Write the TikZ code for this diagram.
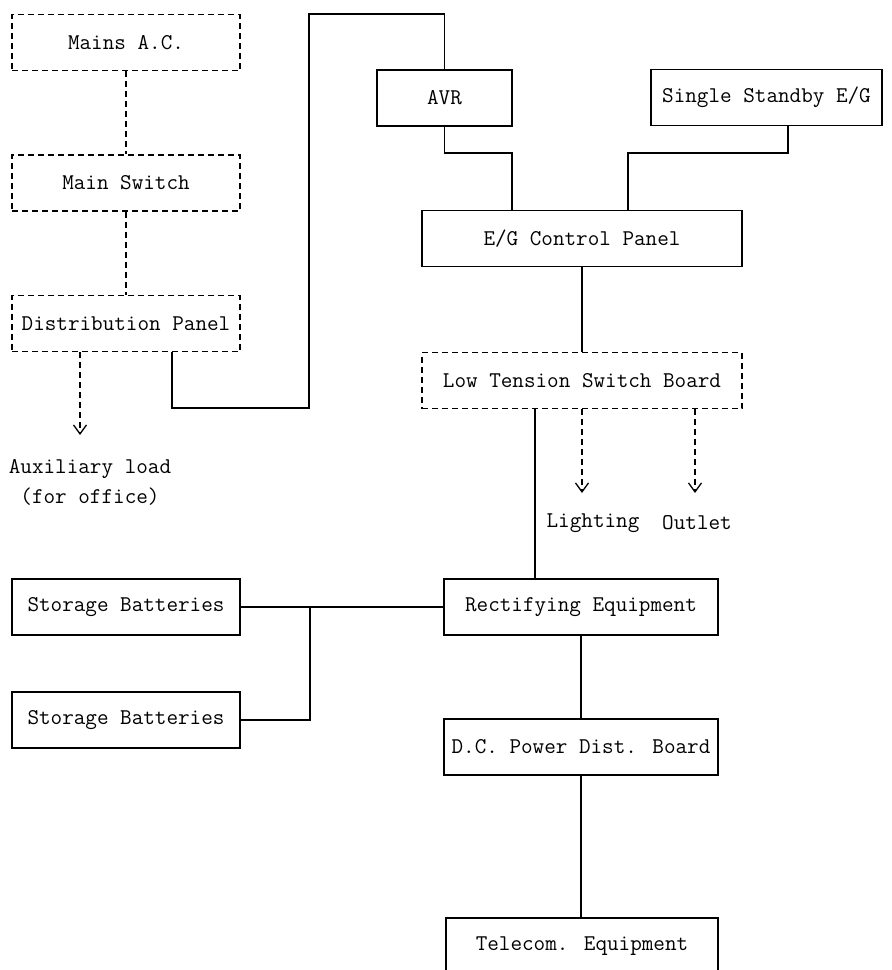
\documentclass[tikz,border=0pt]{standalone}
\usetikzlibrary{arrows.meta}

\tikzset{
  block/.style={draw, line width=1.4pt, minimum height=56pt, inner sep=0pt,
    font=\ttfamily\fontsize{22.5}{30}\selectfont},
  dblock/.style={block, dash pattern=on 6pt off 4pt},
  wire/.style={line width=1.4pt},
  dwire/.style={line width=1.4pt, dash pattern=on 6pt off 4pt},
  feed/.style={dwire, -{Straight Barb[length=9pt,width=13pt,line width=1.3pt]}},
  loadtext/.style={align=center, inner sep=0pt, font=\ttfamily\fontsize{22.5}{30}\selectfont}
}

\begin{document}
\begin{tikzpicture}[x=1pt,y=-1pt]
\useasboundingbox (0,0) rectangle (892,970);
\clip (0,0) rectangle (892,970);

\node[dblock, minimum width=228pt] (mains) at (126,42.5) {Mains A.C.};
\node[dblock, minimum width=228pt] (mainsw) at (126,183) {Main Switch};
\node[dblock, minimum width=228pt] (dist) at (126,323.5) {Distribution Panel};
\node[block, minimum width=135pt] (avr) at (444.5,98) {AVR};
\node[block, minimum width=231pt] (standby) at (766.5,97.5) {Single Standby E/G};
\node[block, minimum width=320pt] (egcp) at (582,238.5) {E/G Control Panel};
\node[dblock, minimum width=320pt] (ltsb) at (582,380.5) {Low Tension Switch Board};
\node[block, minimum width=274pt] (rect) at (581,607) {Rectifying Equipment};
\node[block, minimum width=228pt] (bat1) at (126,607) {Storage Batteries};
\node[block, minimum width=228pt] (bat2) at (126,720) {Storage Batteries};
\node[block, minimum width=274pt] (dcpdb) at (581,747) {D.C. Power Dist. Board};
\node[block, minimum width=272pt] (telecom) at (582,946) {Telecom. Equipment};

\node[loadtext] (aux) at (90,482) {Auxiliary load\\(for office)};
\node[loadtext] (light) at (593,523) {Lighting};
\node[loadtext] (outlet) at (697,523) {Outlet};

\coordinate (auxtip) at (80,435);
\coordinate (dl) at (172,408);
\coordinate (dr) at (309,408);
\coordinate (tl) at (309,14);
\coordinate (ja) at (512,153);
\coordinate (sb) at (788,153);
\coordinate (jb) at (628,153);
\coordinate (ls) at (535,500);
\coordinate (lighttip) at (582,493);
\coordinate (outlettip) at (695,493);
\coordinate (jn) at (310,607);

\draw[dwire] (mains.south) -- (mainsw.north);
\draw[dwire] (mainsw.south) -- (dist.north);
\draw[feed] (dist.south -| auxtip) -- (auxtip);
\draw[wire] (dist.south -| dl) -- (dl) -- (dr) -- (tl) -| (avr.north);
\draw[wire] (avr.south) |- (ja) -- (egcp.north -| ja);
\draw[wire] (standby.south -| sb) -- (sb) -- (jb) -- (egcp.north -| jb);
\draw[wire] (egcp.south) -- (ltsb.north);
\draw[feed] (ltsb.south -| lighttip) -- (lighttip);
\draw[feed] (ltsb.south -| outlettip) -- (outlettip);
\draw[wire] (ltsb.south -| ls) -- (rect.north -| ls);
\draw[wire] (bat1.east) -- (rect.west);
\draw[wire] (bat2.east) -| (jn);
\draw[wire] (rect.south) -- (dcpdb.north);
\draw[wire] (dcpdb.south) -- (telecom.north -| dcpdb.south);
\end{tikzpicture}
\end{document}
